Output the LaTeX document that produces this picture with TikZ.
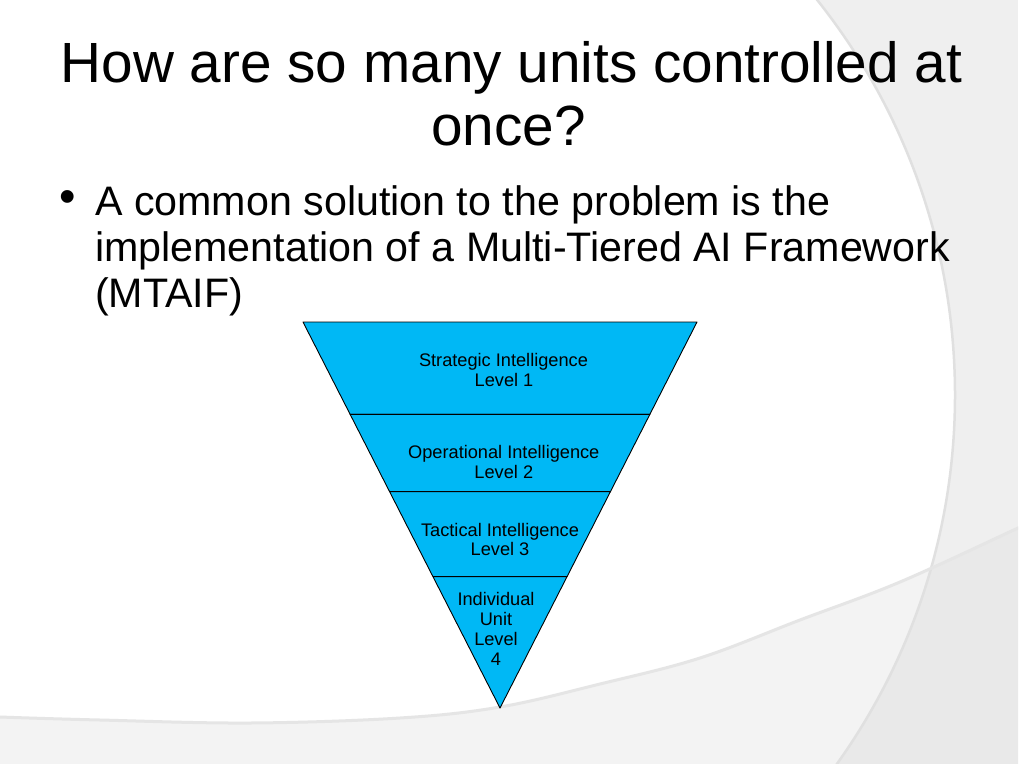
\documentclass[tikz,border=0pt]{standalone}
\usepackage{fontspec}
\setmainfont{Liberation Sans}
\usetikzlibrary{calc}
\definecolor{tri}{RGB}{0,184,245}
\definecolor{bgA}{RGB}{239,239,239}
\definecolor{bgB}{RGB}{243,243,243}
\definecolor{bgC}{RGB}{233,233,233}
\definecolor{edgeA}{RGB}{224,224,224}
\definecolor{edgeB}{RGB}{229,229,229}
\begin{document}
\begin{tikzpicture}[x=1pt,y=-1pt,
  titletext/.style={font=\fontsize{56.7}{60}\selectfont, anchor=base, inner sep=0pt},
  bodytext/.style={font=\fontsize{41.2}{46}\selectfont, anchor=base west, inner sep=0pt},
  bullettext/.style={font=\fontsize{47}{50}\selectfont, anchor=center, inner sep=0pt},
  lvltext/.style={font=\fontsize{18.2}{20}\selectfont, anchor=base, inner sep=0pt},
  tier/.style={fill=tri, draw=black, line width=0.9pt, line join=round}]
\useasboundingbox (0,0) rectangle (1024,768);
\fill[white] (0,0) rectangle (1024,768);
% background
\begin{scope}
  \clip (0,0) rectangle (1018,763);
  \fill[bgA] (0,0) rectangle (1018,763);
  \fill[bgC] plot[smooth, tension=0.6] coordinates {(-10,716) (0,717) (100,720) (250,723) (400,718) (500,707) (600,684) (700,658) (800,620) (900,582) (1018,528) (1040,518)} -- (1040,790) -- (-10,790) -- cycle;
  \begin{scope}
    \clip (320,395) circle[radius=635pt];
    \fill[white] (-10,-10) rectangle (1030,790);
    \fill[bgB] plot[smooth, tension=0.6] coordinates {(-10,716) (0,717) (100,720) (250,723) (400,718) (500,707) (600,684) (700,658) (800,620) (900,582) (1018,528) (1040,518)} -- (1040,790) -- (-10,790) -- cycle;
  \end{scope}
  \draw[edgeA, line width=2.5pt] (320,395) circle[radius=635pt];
  \draw[edgeB, line width=3pt] plot[smooth, tension=0.6] coordinates {(-10,716) (0,717) (100,720) (250,723) (400,718) (500,707) (600,684) (700,658) (800,620) (900,582) (1018,528) (1040,518)};
\end{scope}
% title
\node[titletext] (t1) at (511.5,82) {How are so many units controlled at};
\node[titletext] (t2) at (508.5,145) {once?};
% bullet
\node[bullettext] (bul) at (68,202) {•};
\node[bodytext] (b1) at (95,215) {A common solution to the problem is the};
\node[bodytext] (b2) at (95,261) {implementation of a Multi-Tiered AI Framework};
\node[bodytext] (b3) at (95,307) {(MTAIF)};
% triangle
\coordinate (A) at (303,322);
\coordinate (B) at (697,322);
\coordinate (T) at (500,708);
\coordinate (l1) at ($(A)!0.2391!(T)$);
\coordinate (r1) at ($(B)!0.2391!(T)$);
\coordinate (l2) at ($(A)!0.4396!(T)$);
\coordinate (r2) at ($(B)!0.4396!(T)$);
\coordinate (l3) at ($(A)!0.6598!(T)$);
\coordinate (r3) at ($(B)!0.6598!(T)$);
\filldraw[tier] (A) -- (B) -- (r1) -- (l1) -- cycle;
\filldraw[tier] (l1) -- (r1) -- (r2) -- (l2) -- cycle;
\filldraw[tier] (l2) -- (r2) -- (r3) -- (l3) -- cycle;
\filldraw[tier] (l3) -- (r3) -- (T) -- cycle;
% labels
\node[lvltext] (s1) at (503.5,366) {Strategic Intelligence};
\node[lvltext] (s2) at (504,386) {Level 1};
\node[lvltext] (o1) at (503.8,458.3) {Operational Intelligence};
\node[lvltext] (o2) at (503.8,478.3) {Level 2};
\node[lvltext] (c1) at (500,536) {Tactical Intelligence};
\node[lvltext] (c2) at (500,555.7) {Level 3};
\node[lvltext] (i1) at (496,605) {Individual};
\node[lvltext] (i2) at (496,625) {Unit};
\node[lvltext] (i3) at (496,645) {Level};
\node[lvltext] (i4) at (496,665) {4};
\end{tikzpicture}
\end{document}
